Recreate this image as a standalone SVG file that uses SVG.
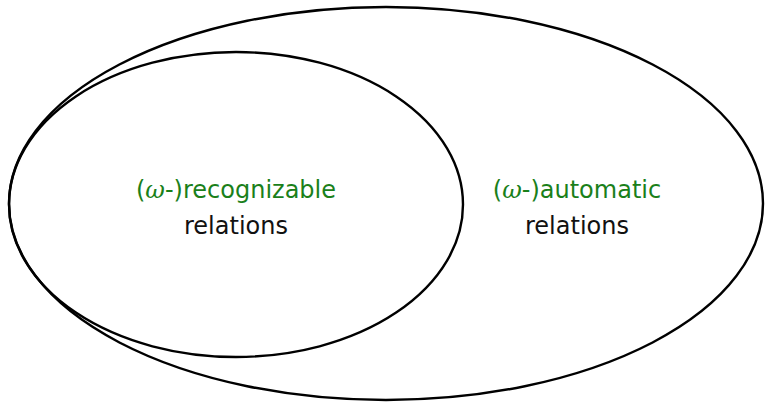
<svg xmlns="http://www.w3.org/2000/svg" width="766" height="403" viewBox="0 0 766 403">
<style>
.set{fill:none;stroke:#000;stroke-width:2.4}
.t{font-family:"DejaVu Sans",sans-serif;font-size:24px;text-anchor:middle}
.g{fill:#1a801a}
.k{fill:#111}
.m{font-family:"DejaVu Serif",serif;font-style:italic}
</style>
<rect width="766" height="403" fill="#fff"/>
<g id="automatic">
<ellipse class="set" cx="386" cy="203.5" rx="377" ry="196.5"/>
<text class="t g" x="577" y="198">(<tspan class="m">ω</tspan>-)automatic</text>
<text class="t k" x="577" y="234">relations</text>
</g>
<g id="recognizable">
<ellipse class="set" cx="236" cy="204.5" rx="227" ry="152.5"/>
<text class="t g" x="236" y="198">(<tspan class="m">ω</tspan>-)recognizable</text>
<text class="t k" x="236" y="234">relations</text>
</g>
<g id="connectors"></g>
</svg>
